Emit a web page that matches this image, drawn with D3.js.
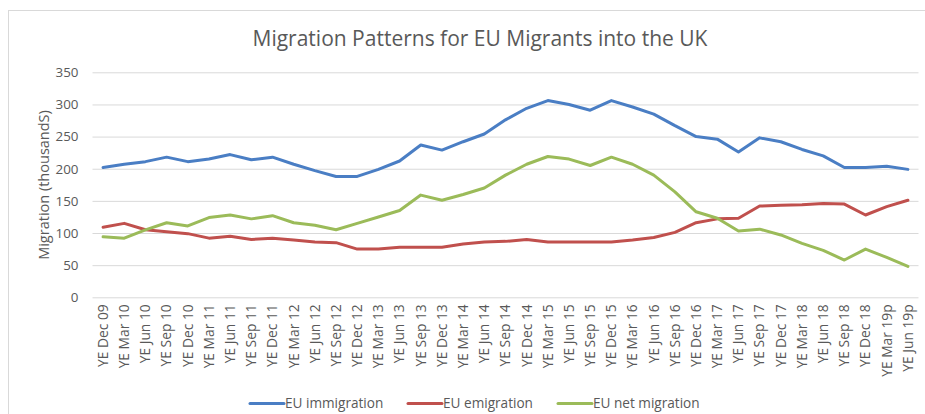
<!DOCTYPE html>
<html>
<head>
<meta charset="utf-8">
<script src="https://cdn.jsdelivr.net/npm/d3@7"></script>
<style>
  html, body { margin: 0; padding: 0; background: #ffffff; }
  svg { display: block; font-family: "Open Sans", "Liberation Sans", sans-serif; }
</style>
</head>
<body>
<svg id="chart" width="925" height="414"></svg>
<script>
// Quarterly periods (year ending)
const periods = [
  "YE Dec 09", "YE Mar 10", "YE Jun 10", "YE Sep 10", "YE Dec 10",
  "YE Mar 11", "YE Jun 11", "YE Sep 11", "YE Dec 11",
  "YE Mar 12", "YE Jun 12", "YE Sep 12", "YE Dec 12",
  "YE Mar 13", "YE Jun 13", "YE Sep 13", "YE Dec 13",
  "YE Mar 14", "YE Jun 14", "YE Sep 14", "YE Dec 14",
  "YE Mar 15", "YE Jun 15", "YE Sep 15", "YE Dec 15",
  "YE Mar 16", "YE Jun 16", "YE Sep 16", "YE Dec 16",
  "YE Mar 17", "YE Jun 17", "YE Sep 17", "YE Dec 17",
  "YE Mar 18", "YE Jun 18", "YE Sep 18", "YE Dec 18",
  "YE Mar 19p", "YE Jun 19p"
];

// Thousands of people
const immigration = [
  202, 207, 211, 218, 211, 215, 222, 214, 218,
  207, 197, 188, 188, 199, 212, 237, 229,
  242, 254, 276, 294, 306, 300, 291, 306,
  296, 285, 267, 250, 246, 226, 248, 242,
  230, 220, 202, 202, 204, 199
];
const emigration = [
  109, 115, 105, 102, 99, 92, 95, 90, 92,
  89, 86, 85, 75, 75, 78, 78, 78,
  83, 86, 87, 90, 86, 86, 86, 86,
  89, 93, 101, 116, 122, 123, 142, 143,
  144, 146, 145, 128, 141, 151
];
const netMigration = [
  94, 92, 105, 116, 111, 124, 128, 122, 127,
  116, 112, 105, 115, 125, 135, 159, 151,
  160, 170, 190, 207, 219, 215, 205, 218,
  207, 190, 164, 133, 123, 103, 106, 97,
  84, 73, 58, 75, 62, 48
];

const yTicks = [0, 50, 100, 150, 200, 250, 300, 350];

const seriesNames = ["EU immigration", "EU emigration", "EU net migration"];
const seriesColors = ["#4A7EC4", "#C0504D", "#9BBB59"];

const series = [immigration, emigration, netMigration].map((values, i) => ({
  name: seriesNames[i],
  color: seriesColors[i],
  values
}));

const svg = d3.select("#chart");
const textColor = "#595959";

// Chart frame
svg.append("rect")
  .attr("x", 8.5).attr("y", 10.5)
  .attr("width", 1000).attr("height", 1000)
  .attr("fill", "none")
  .attr("stroke", "#d9d9d9")
  .attr("stroke-width", 1);

const plot = { left: 92.5, right: 918.5, top: 72.3, bottom: 297.3 };

const x = d3.scaleBand()
  .domain(periods)
  .range([plot.left, plot.right])
  .padding(0);
const xc = d => x(d) + x.bandwidth() / 2;

const y = d3.scaleLinear()
  .domain([0, 350])
  .range([plot.bottom, plot.top]);

// Horizontal gridlines and value labels
const yAxis = d3.axisLeft(y)
  .tickValues(yTicks)
  .tickSize(-(plot.right - plot.left))
  .tickPadding(14)
  .tickFormat(d3.format("d"));

const yG = svg.append("g")
  .attr("transform", `translate(${plot.left},0)`)
  .call(yAxis);
yG.select(".domain").remove();
yG.selectAll(".tick line")
  .attr("stroke", "#d9d9d9")
  .attr("stroke-width", 1);
yG.selectAll(".tick text")
  .attr("fill", textColor)
  .style("font-size", "13.4px")
  .style("font-family", "'Open Sans', sans-serif");

// Category labels, rotated
const xAxis = d3.axisBottom(x)
  .tickSize(0)
  .tickPadding(0);
const xG = svg.append("g")
  .attr("transform", `translate(0,${plot.bottom})`)
  .call(xAxis);
xG.select(".domain").remove();
xG.selectAll(".tick text")
  .attr("fill", textColor)
  .style("font-size", "13.8px")
  .style("font-family", "'Open Sans', sans-serif")
  .attr("text-anchor", "end")
  .attr("dy", "0.35em")
  .attr("transform", "translate(0,7) rotate(-90)")
  .attr("x", 0)
  .attr("y", 0);

// Series lines
const line = d3.line()
  .x((d, i) => xc(periods[i]))
  .y(d => y(d));

svg.append("g")
  .selectAll("path")
  .data(series)
  .join("path")
  .attr("d", s => line(s.values))
  .attr("fill", "none")
  .attr("stroke", s => s.color)
  .attr("stroke-width", 3)
  .attr("stroke-linejoin", "round")
  .attr("stroke-linecap", "round");

// Title
svg.append("text")
  .attr("x", 480)
  .attr("y", 46)
  .attr("text-anchor", "middle")
  .attr("fill", textColor)
  .style("font-size", "21px")
  .text("Migration Patterns for EU Migrants into the UK");

// Axis title
svg.append("text")
  .attr("transform", `translate(49,185) rotate(-90)`)
  .attr("text-anchor", "middle")
  .attr("fill", textColor)
  .style("font-size", "14.5px")
  .text("Migration (thousandS)");

// Legend
const legendX = [250, 408, 558];
const legend = svg.append("g")
  .selectAll("g")
  .data(series)
  .join("g")
  .attr("transform", (d, i) => `translate(${legendX[i]},403.5)`);
legend.append("line")
  .attr("x1", 0).attr("x2", 34)
  .attr("y1", 0).attr("y2", 0)
  .attr("stroke", d => d.color)
  .attr("stroke-width", 3)
  .attr("stroke-linecap", "round");
legend.append("text")
  .attr("x", 35)
  .attr("y", 0)
  .attr("dy", "0.35em")
  .attr("fill", textColor)
  .style("font-size", "13.6px")
  .text(d => d.name);
</script>
</body>
</html>
